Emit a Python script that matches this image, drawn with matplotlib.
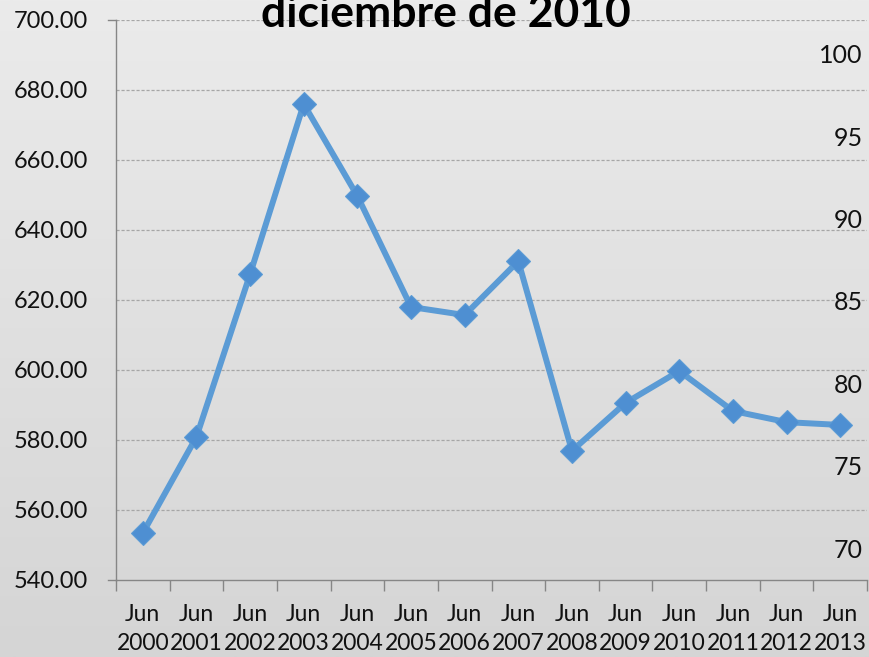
import matplotlib
matplotlib.use("Agg")
import matplotlib.pyplot as plt
import numpy as np
from matplotlib.ticker import FixedLocator, NullFormatter, FixedFormatter

years = ["2000", "2001", "2002", "2003", "2004", "2005", "2006",
         "2007", "2008", "2009", "2010", "2011", "2012", "2013"]
values = [553.4, 580.9, 627.4, 676.0, 649.7, 618.0, 615.7,
          631.1, 576.9, 590.6, 599.7, 588.3, 585.1, 584.3]
left_ticks = [540, 560, 580, 600, 620, 640, 660, 680, 700]
right_ticks = [70, 75, 80, 85, 90, 95, 100]
title = "diciembre de 2010"

FONT = ["Lato", "DejaVu Sans"]
plt.rcParams['font.family'] = FONT

W, H = 869, 657
fig = plt.figure(figsize=(W / 100, H / 100), dpi=100)

# gradient background
bg = fig.add_axes([0, 0, 1, 1], zorder=-10)
grad = np.linspace(0, 1, 256).reshape(-1, 1)
top = np.array([0xeb, 0xeb, 0xeb]) / 255
bot = np.array([0xd5, 0xd5, 0xd5]) / 255
img = top + (bot - top) * grad[..., None]
bg.imshow(img, aspect='auto', extent=[0, 1, 0, 1], origin='upper')
bg.axis('off')

x0, x1 = 116, 867
y0, y1 = 20, 580
ax = fig.add_axes([x0 / W, 1 - y1 / H, (x1 - x0) / W, (y1 - y0) / H])
ax.patch.set_alpha(0)

n = len(years)
xs = np.arange(n) + 0.5
ax.plot(xs, values, color="#5b9bd5", lw=4.3, marker='D', ms=12.5,
        markerfacecolor="#4e8fd2", markeredgecolor="#5b9bd5", markeredgewidth=0.8,
        zorder=5, solid_joinstyle='round')

ax.set_xlim(0, n)
ax.set_ylim(540, 700)
for v in left_ticks[1:]:
    ax.axhline(v, color="#a6a6a6", lw=0.9, ls=(0, (2.5, 1.5)), zorder=1)

ax.set_yticks(left_ticks)
ax.set_yticklabels([f"{v:.2f}" for v in left_ticks])
ax.tick_params(axis='y', length=0, pad=20, labelsize=17, labelcolor="#111111")
# small ticks only at ends
for v in (540, 700):
    ax.plot([-0.15, 0], [v, v], color="#868686", lw=1, clip_on=False, zorder=2)

ax.xaxis.set_major_locator(FixedLocator(np.arange(n + 1)))
ax.xaxis.set_major_formatter(NullFormatter())
ax.xaxis.set_minor_locator(FixedLocator(xs))
ax.xaxis.set_minor_formatter(FixedFormatter([f"Jun\n{y}" for y in years]))
ax.tick_params(axis='x', which='major', length=8, width=1, color="#868686", direction='out')
ax.tick_params(axis='x', which='minor', length=0, pad=17, labelsize=16.5,
               labelcolor="#111111")
for lbl in ax.xaxis.get_minorticklabels():
    lbl.set_linespacing(1.5)

for s in ("top", "right"):
    ax.spines[s].set_visible(False)
for s in ("left", "bottom"):
    ax.spines[s].set_color("#868686")
    ax.spines[s].set_linewidth(1)

ax2 = ax.twinx()
ax2.set_ylim(68.06, 102.06)
ax2.set_yticks(right_ticks)
ax2.set_yticklabels([str(v) for v in right_ticks])
ax2.tick_params(axis='y', length=0, pad=-3, labelsize=18, labelcolor="#111111")
for lbl in ax2.get_yticklabels():
    lbl.set_horizontalalignment('right')
for s in ax2.spines.values():
    s.set_visible(False)

fig.text(446 / W, 1 - 27 / H, title, ha='center', va='baseline',
         fontsize=32, fontweight='bold', color="#000000", family=FONT)

fig.savefig("out.png", dpi=100)
